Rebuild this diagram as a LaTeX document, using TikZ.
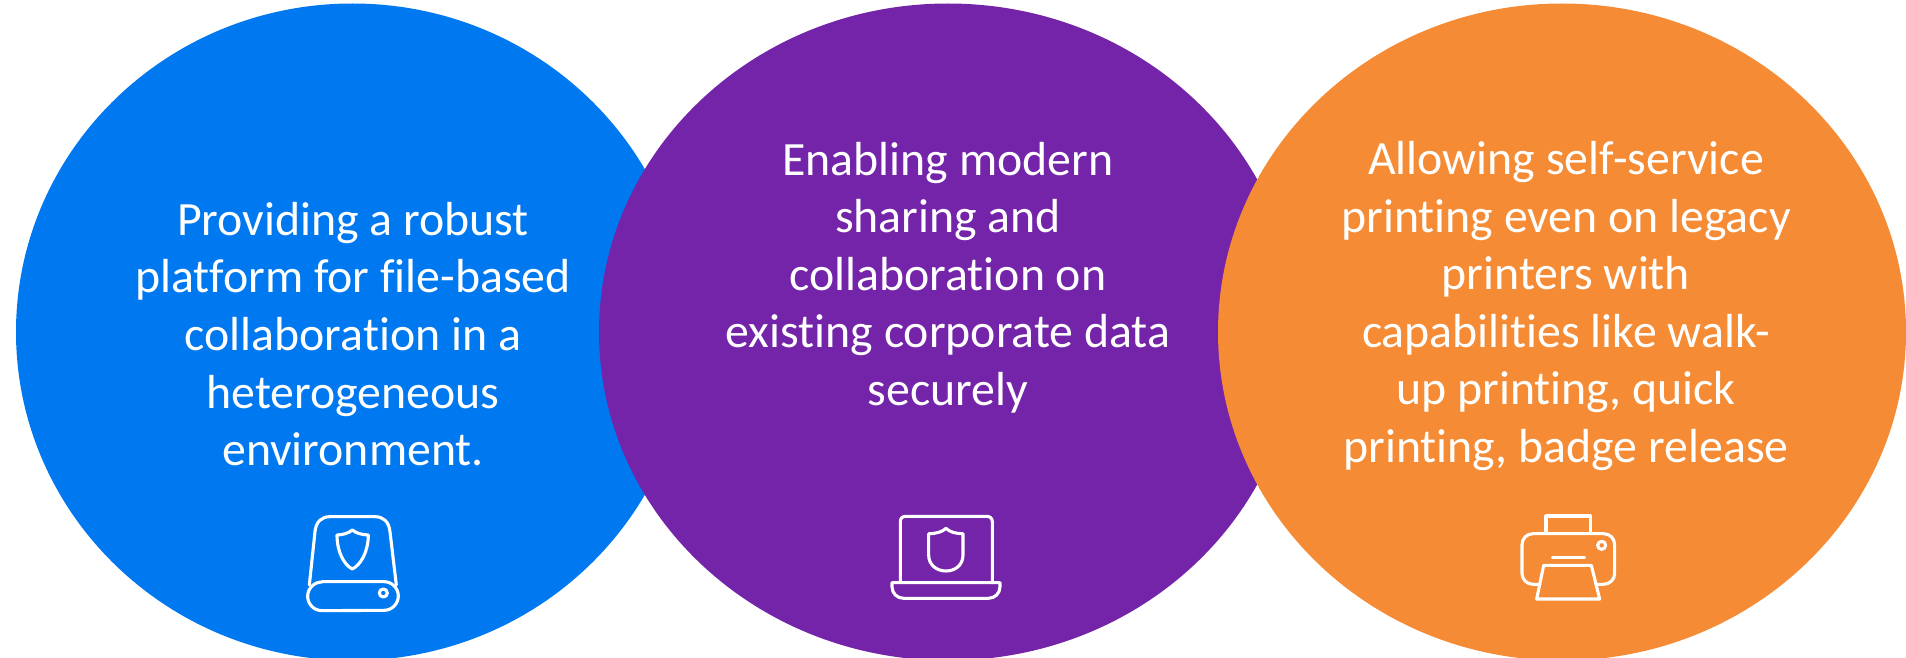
\documentclass[tikz,border=0pt]{standalone}
\usepackage{fontspec}
\setmainfont[Ligatures=CommonOff]{Carlito}
\definecolor{cblue}{HTML}{0078F0}
\definecolor{cpurple}{HTML}{7424A8}
\definecolor{corange}{HTML}{F58B35}
\tikzset{
  caption/.style={text=white,align=center,font=\fontsize{47.8}{57.6}\selectfont,inner sep=0pt},
  icon/.style={draw=white,line width=3.1pt,line join=round,line cap=round},
}
\begin{document}
\begin{tikzpicture}[x=1pt,y=-1pt]
\useasboundingbox (0,0) rectangle (1906,658);
\begin{scope}
\clip (0,0) rectangle (1906,658);
\fill[cblue] (352.5,332) ellipse [x radius=336.5,y radius=328.5];
\fill[cpurple] (948,332) ellipse [x radius=349,y radius=328.5];
\fill[corange] (1562,332) ellipse [x radius=344,y radius=328.5];
\end{scope}
\node[caption] (tblue) at (353,334) {Providing a robust\\platform for file-based\\collaboration in a\\heterogeneous\\environment.};
\node[caption] (tpurple) at (948,277.5) {Enabling modern\\sharing and\\collaboration on\\existing corporate data\\securely};
\node[caption] (torange) at (1566,306) {Allowing self-service\\printing even on legacy\\printers with\\capabilities like walk-\\up printing, quick\\printing, badge release};
% drive icon
\begin{scope}[shift={(270,490)},x=0.3333pt,y=-0.3333pt]
\draw[icon] (118,285) -- (135,125) .. controls (138,95) and (155,80) .. (180,80) -- (315,80) .. controls (340,80) and (357,95) .. (360,125) -- (379,285);
\draw[icon] (156,275) -- (342,275) arc[start angle=90,end angle=-90,x radius=43,y radius=-43] -- (156,362) arc[start angle=270,end angle=90,x radius=43,y radius=-43] -- cycle;
\draw[icon] (340,309) circle [radius=12];
\draw[icon] (247,120) .. controls (235,130) and (220,134) .. (201,135) .. controls (201,185) and (222,225) .. (247,237) .. controls (272,225) and (295,185) .. (295,135) .. controls (275,134) and (259,130) .. (247,120) -- cycle;
\end{scope}
% laptop icon
\begin{scope}[shift={(870,490)},x=0.3333pt,y=-0.3333pt]
\draw[icon] (91,278) -- (91,95) .. controls (91,85) and (97,79) .. (107,79) -- (350,79) .. controls (360,79) and (367,85) .. (367,95) -- (367,278);
\draw[icon] (66,278) -- (390,278) -- (390,290) .. controls (390,310) and (375,325) .. (355,325) -- (101,325) .. controls (81,325) and (66,310) .. (66,290) -- cycle;
\draw[icon] (228,115) .. controls (218,125) and (200,131) .. (176,131) -- (176,195) .. controls (176,225) and (200,243) .. (228,243) .. controls (256,243) and (279,225) .. (279,195) -- (279,131) .. controls (255,131) and (238,125) .. (228,115) -- cycle;
\end{scope}
% printer icon
\begin{scope}[shift={(1490,490)},x=0.3333pt,y=-0.3333pt]
\draw[icon] (168,130) -- (168,78) -- (302,78) -- (302,130);
\draw[icon] (150,283) -- (130,283) .. controls (110,283) and (96,268) .. (96,250) -- (96,165) .. controls (96,145) and (110,131) .. (130,131) -- (340,131) .. controls (360,131) and (374,145) .. (374,165) -- (374,250) .. controls (374,268) and (360,283) .. (340,283) -- (318,283);
\draw[icon] (335,166) circle [radius=12];
\draw[icon] (187,203) -- (284,203);
\draw[icon] (161,226) -- (304,226) -- (329,327) -- (140,327) -- cycle;
\end{scope}
\end{tikzpicture}
\end{document}
